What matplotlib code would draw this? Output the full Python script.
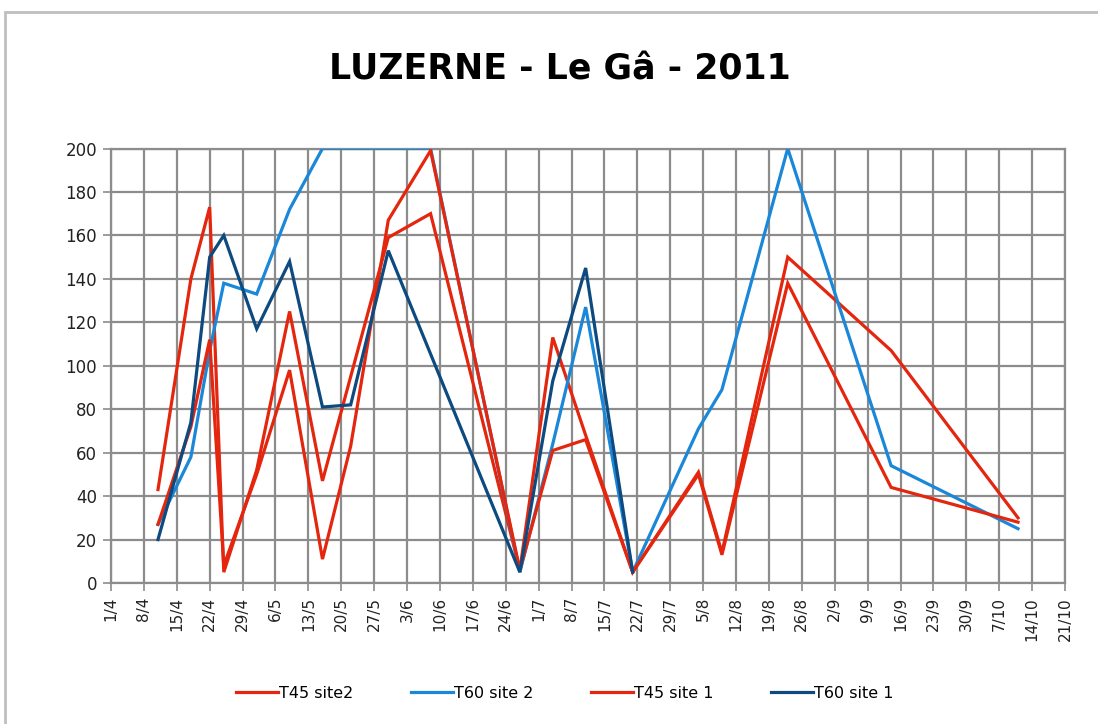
import matplotlib
matplotlib.use("Agg")
import matplotlib.pyplot as plt
from matplotlib.patches import Rectangle
from datetime import datetime, timedelta

# ---- data ----
t45_site2_dates = ['2011-04-11', '2011-04-18', '2011-04-22', '2011-04-25', '2011-05-02', '2011-05-09',
                   '2011-05-16', '2011-05-30', '2011-06-08', '2011-06-27', '2011-07-04', '2011-07-11',
                   '2011-07-21', '2011-08-04', '2011-08-09', '2011-08-23', '2011-09-14', '2011-10-11']
t45_site2 = [43, 140, 173, 5, 52, 125, 47, 159, 170, 6, 113, 68, 5, 51, 14, 150, 107, 30]

t60_site2_dates = ['2011-04-11', '2011-04-18', '2011-04-22', '2011-04-25', '2011-05-02', '2011-05-09',
                   '2011-05-16', '2011-05-22', '2011-05-30', '2011-06-08', '2011-06-27', '2011-07-04',
                   '2011-07-11', '2011-07-21', '2011-08-04', '2011-08-09', '2011-08-23', '2011-09-14',
                   '2011-10-11']
t60_site2 = [27, 58, 107, 138, 133, 172, 200, 200, 200, 200, 5, 64, 127, 5, 71, 89, 200, 54, 25]

t45_site1_dates = ['2011-04-11', '2011-04-18', '2011-04-22', '2011-04-25', '2011-05-02', '2011-05-09',
                   '2011-05-16', '2011-05-22', '2011-05-30', '2011-06-08', '2011-06-27', '2011-07-04',
                   '2011-07-11', '2011-07-21', '2011-08-04', '2011-08-09', '2011-08-23', '2011-09-14',
                   '2011-10-11']
t45_site1 = [27, 72, 112, 8, 50, 98, 11, 63, 167, 199, 6, 61, 66, 5, 50, 13, 138, 44, 28]

t60_site1_dates = ['2011-04-11', '2011-04-18', '2011-04-22', '2011-04-25', '2011-05-02', '2011-05-09',
                   '2011-05-16', '2011-05-22', '2011-05-30', '2011-06-27', '2011-07-04', '2011-07-11',
                   '2011-07-21']
t60_site1 = [20, 74, 150, 160, 117, 148, 81, 82, 153, 5, 93, 145, 5]

series_names = ['T45 site2', 'T60 site 2', 'T45 site 1', 'T60 site 1']
title = 'LUZERNE - Le Gâ - 2011'
x_start, x_end = '2011-04-01', '2011-10-21'
y_ticks = [0, 20, 40, 60, 80, 100, 120, 140, 160, 180, 200]

# ---- plot ----
W, H = 1098, 724
fig = plt.figure(figsize=(W / 100, H / 100), dpi=100)
fig.patch.set_facecolor('white')

# outer chart border
fig.add_artist(Rectangle((5 / W, -0.1), 1.2, (H - 12) / H + 0.1, transform=fig.transFigure,
                         fill=False, edgecolor='#BFBFBF', linewidth=2.0))

ax = fig.add_axes([111 / W, 1 - 583 / H, (1065 - 111) / W, (583 - 148.5) / H])

def to_dt(lst):
    return [datetime.strptime(s, '%Y-%m-%d') for s in lst]

red = '#E5260E'
lblue = '#1A87D8'
dblue = '#0D4A7F'
lw = 2.3

all_series = [
    (t45_site2_dates, t45_site2, red),
    (t60_site2_dates, t60_site2, lblue),
    (t45_site1_dates, t45_site1, red),
    (t60_site1_dates, t60_site1, dblue),
]
for (d, v, c), name in zip(all_series, series_names):
    ax.plot(to_dt(d), v, color=c, linewidth=lw, label=name, solid_joinstyle='miter', zorder=3)

xs = datetime.strptime(x_start, '%Y-%m-%d')
xe = datetime.strptime(x_end, '%Y-%m-%d')
ax.set_xlim(xs, xe)
ax.set_ylim(0, 200)

ticks = []
t = xs
while t <= xe:
    ticks.append(t)
    t += timedelta(days=7)
ax.set_xticks(ticks)
ax.set_xticklabels([f'{d.day}/{d.month}' for d in ticks], rotation=90, fontsize=11,
                   color='#222222')
ax.set_yticks(y_ticks)
ax.set_yticklabels([str(v) for v in y_ticks], fontsize=12, color='#222222')

gc = '#8C8C8C'
ax.grid(True, color=gc, linewidth=1.6, zorder=0)
ax.set_axisbelow(True)
for s in ax.spines.values():
    s.set_color(gc)
    s.set_linewidth(1.6)
ax.tick_params(axis='both', which='major', length=6, width=1.2, color=gc, pad=4)

fig.text(560 / W, 1 - 70 / H, title, ha='center', va='center', fontsize=25, fontweight='bold')

leg = fig.legend(loc='center', bbox_to_anchor=(565 / W, 1 - 693 / H), ncol=4, frameon=False,
                 fontsize=11.5, handlelength=2.6, handletextpad=0.1, columnspacing=3.6)

fig.savefig('out.png', dpi=100, facecolor='white')
